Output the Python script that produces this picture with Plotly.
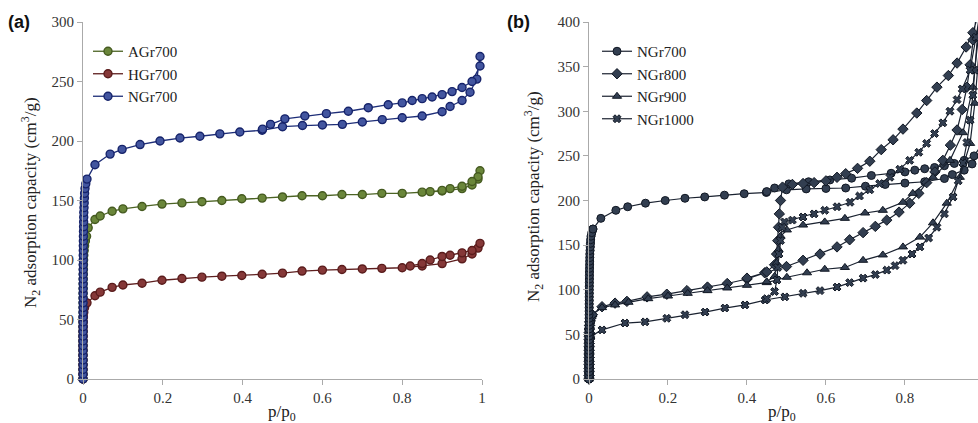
import plotly.graph_objects as go

# ---------------- data ----------------
# Panel (a) -- low-pressure (near-vertical) part, then adsorption, then desorption
ngr700_low_p = [0, 0, 0, 0, 0, 0, 0, 0, 0, 0, 0.0001, 0.0001, 0.0001, 0.0001, 0.0001,
                0.0002, 0.0002, 0.0002, 0.0002, 0.0003, 0.0003, 0.0003, 0.0004, 0.0004,
                0.0005, 0.0005, 0.0006, 0.0007, 0.0008, 0.0009, 0.001, 0.0012, 0.0014,
                0.0016, 0.0018, 0.002, 0.0025, 0.003, 0.0035, 0.004, 0.005, 0.007, 0.01]
ngr700_low_v = [0, 4, 8, 12, 16, 20, 24, 28, 32, 36, 40, 44, 48, 52, 56, 60, 64, 68, 72, 76,
                80, 84, 88, 92, 96, 100, 104, 108, 112, 116, 120, 124, 128, 132, 136, 140,
                144, 148, 152, 156, 160, 164, 168]
ngr700_ads_p = [0.03, 0.068, 0.098, 0.143, 0.193, 0.243, 0.293, 0.343, 0.393, 0.449, 0.5, 0.55,
                0.6, 0.65, 0.70, 0.75, 0.80, 0.85, 0.90, 0.92, 0.95, 0.97, 0.987, 0.995]
ngr700_ads_v = [180, 189, 193, 197, 200, 202.5, 204, 206, 207.6, 209, 212, 213,
                213.5, 214, 216, 218, 219.5, 221, 224.6, 229, 234, 241, 252, 271]
ngr700_des_p = [0.995, 0.975, 0.95, 0.925, 0.90, 0.875, 0.85, 0.825, 0.80, 0.765, 0.715, 0.665,
                0.61, 0.556, 0.506, 0.47, 0.45]
ngr700_des_v = [263, 250, 245, 241.5, 239, 237, 235.6, 234, 232, 230.5, 228, 225,
                223, 221, 218.6, 214, 210]

agr700_low_p = [0, 0, 0, 0, 0, 0, 0, 0, 0, 0, 0.0001, 0.0001, 0.0001, 0.0001, 0.0002, 0.0002,
                0.0002, 0.0003, 0.0003, 0.0004, 0.0005, 0.0006, 0.0008, 0.001, 0.0012, 0.0015,
                0.002, 0.003, 0.004, 0.006, 0.009]
agr700_low_v = [0, 4, 8, 12, 16, 20, 24, 28, 32, 36, 40, 44, 48, 52, 56, 60, 64, 68, 72, 76,
                80, 84, 88, 92, 96, 100, 104, 108, 112, 116, 120]
agr700_ads_p = [0.013, 0.03, 0.043, 0.073, 0.1, 0.148, 0.198, 0.248, 0.298, 0.348, 0.398, 0.449,
                0.5, 0.549, 0.6, 0.649, 0.70, 0.749, 0.8, 0.85, 0.9, 0.95, 0.975, 0.99, 0.995]
agr700_ads_v = [127, 134, 137, 141, 143, 145, 147, 148, 149, 150, 151.5, 152,
                153, 154, 154, 155, 155, 156, 156, 157, 158, 160, 163, 168, 175]
agr700_des_p = [0.99, 0.975, 0.95, 0.92, 0.9, 0.87]
agr700_des_v = [170, 166, 162, 160, 158.5, 157.5]

hgr700_low_p = [0, 0, 0, 0, 0, 0, 0, 0, 0.0001, 0.0001, 0.0002, 0.0003, 0.0005, 0.001, 0.002,
                0.004]
hgr700_low_v = [0, 4, 8, 12, 16, 20, 24, 28, 32, 36, 40, 44, 48, 52, 56, 60]
hgr700_ads_p = [0.01, 0.03, 0.043, 0.073, 0.1, 0.148, 0.198, 0.248, 0.298, 0.348, 0.398, 0.449,
                0.5, 0.549, 0.6, 0.649, 0.7, 0.749, 0.8, 0.85, 0.9, 0.95, 0.975, 0.99, 0.995]
hgr700_ads_v = [64, 70, 73, 77, 79, 80.5, 83, 84.5, 85.6, 86.4, 87, 88,
                89, 90.7, 91.5, 92, 92.5, 93, 93.5, 95, 97, 101, 105, 110, 114]
hgr700_des_p = [0.975, 0.95, 0.92, 0.9, 0.87, 0.85, 0.82]
hgr700_des_v = [108, 106, 104, 103, 100, 97, 95]

# Panel (b)
ngr800_low_p = [0, 0, 0, 0, 0, 0, 0, 0, 0.0001, 0.0001, 0.0002, 0.0002, 0.0003, 0.0005, 0.0008,
                0.0012, 0.002, 0.004, 0.008]
ngr800_low_v = [0, 4, 8, 12, 16, 20, 24, 28, 32, 36, 40, 44, 48, 52, 56, 60, 64, 68, 72]
ngr800_ads_p = [0.033, 0.066, 0.096, 0.147, 0.197, 0.248, 0.3, 0.35, 0.4, 0.445, 0.5, 0.542,
                0.585, 0.628, 0.66, 0.694, 0.725, 0.754, 0.785, 0.812, 0.835, 0.855, 0.876,
                0.896, 0.915, 0.932, 0.945, 0.957, 0.965, 0.972, 0.98, 0.99]
ngr800_ads_v = [81, 85, 87, 92, 95, 99, 103, 107, 112, 119, 126, 133,
                140, 148, 156, 164, 171, 178, 187, 197, 208, 220, 232,
                245, 262, 279, 302, 327, 352, 380, 410, 440]
ngr800_des_p = [0.99, 0.972, 0.955, 0.932, 0.91, 0.881, 0.855, 0.83, 0.795, 0.77, 0.74, 0.711,
                0.68, 0.65, 0.628, 0.6, 0.57, 0.542, 0.515, 0.49, 0.485, 0.482, 0.48, 0.478,
                0.475, 0.47, 0.45, 0.4]
ngr800_des_v = [415, 388, 372, 354, 340, 327, 312, 298, 280, 268, 257, 244,
                236, 230, 226, 222, 220, 219, 218, 215, 200, 185, 170, 155,
                140, 128, 120, 113]

ngr900_low_p = [0, 0, 0, 0, 0, 0, 0, 0, 0.0001, 0.0001, 0.0002, 0.0002, 0.0003, 0.0005, 0.0008,
                0.0012, 0.002, 0.004, 0.008]
ngr900_low_v = [0, 4, 8, 12, 16, 20, 24, 28, 32, 36, 40, 44, 48, 52, 56, 60, 64, 68, 72]
ngr900_ads_p = [0.033, 0.066, 0.1, 0.15, 0.2, 0.25, 0.3, 0.35, 0.4, 0.45, 0.501, 0.552, 0.597,
                0.648, 0.694, 0.744, 0.795, 0.838, 0.871, 0.906, 0.939, 0.965, 0.977, 0.99]
ngr900_ads_v = [80, 83, 86, 90, 93, 96, 99, 102, 105, 108, 114, 119, 123,
                125, 133, 139, 148, 159, 175, 197, 226, 264, 309, 380]
ngr900_des_p = [0.99, 0.972, 0.947, 0.914, 0.871, 0.82, 0.795, 0.744, 0.699, 0.648, 0.597,
                0.542, 0.501, 0.485, 0.48, 0.475, 0.47, 0.45]
ngr900_des_v = [400, 327, 276, 245, 226, 208, 198, 189, 186, 180, 176,
                172.5, 167, 160, 145, 130, 115, 109]

ngr1000_low_p = [0, 0, 0, 0, 0, 0, 0.0001, 0.0001, 0.0002, 0.0004, 0.0008, 0.002, 0.005]
ngr1000_low_v = [0, 4, 8, 12, 16, 20, 24, 28, 32, 36, 40, 44, 48]
ngr1000_ads_p = [0.033, 0.091, 0.142, 0.197, 0.243, 0.294, 0.344, 0.395, 0.446, 0.496, 0.542,
                 0.585, 0.628, 0.66, 0.694, 0.725, 0.754, 0.775, 0.795, 0.818, 0.838, 0.86,
                 0.881, 0.9, 0.922, 0.935, 0.947, 0.957, 0.965, 0.972, 0.977, 0.99]
ngr1000_ads_v = [55, 62.7, 64, 68, 72, 75, 79.5, 83, 88.5, 92, 96,
                 99, 103, 108, 113, 117, 122, 127, 133, 140, 148, 158,
                 170, 185, 204, 222, 242, 265, 290, 318, 346, 420]
ngr1000_des_p = [0.99, 0.98, 0.965, 0.945, 0.932, 0.914, 0.896, 0.875, 0.855, 0.835, 0.812,
                 0.787, 0.762, 0.736, 0.711, 0.685, 0.661, 0.628, 0.597, 0.57, 0.542, 0.515,
                 0.495, 0.489, 0.485, 0.481, 0.478, 0.476, 0.47, 0.45]
ngr1000_des_v = [410, 383, 346, 325, 313, 300, 287, 275, 264, 254, 245,
                 235, 226, 219, 212, 205, 198, 193, 189, 185, 181.5, 178,
                 176, 170, 155, 140, 125, 111, 98, 90]

x_ticks_a = [0, 0.2, 0.4, 0.6, 0.8, 1]
x_ticks_b = [0, 0.2, 0.4, 0.6, 0.8]
y_ticks_a = [0, 50, 100, 150, 200, 250, 300]
y_ticks_b = [0, 50, 100, 150, 200, 250, 300, 350, 400]

# ---------------- figure ----------------
W, H = 978, 423
ML, MT, MB = 0, 22, 44
PH = H - MT - MB

def px(x):
    return x / W

def py(y):
    return (H - MB - y) / PH

SERIF = "Liberation Serif, Times New Roman, serif"
fig = go.Figure()

left_series = [
    ("AGr700", agr700_low_p + agr700_ads_p + agr700_des_p, agr700_low_v + agr700_ads_v + agr700_des_v,
     "#4C6424", "#6A863A", "#455A20"),
    ("HGr700", hgr700_low_p + hgr700_ads_p + hgr700_des_p, hgr700_low_v + hgr700_ads_v + hgr700_des_v,
     "#5E1F1F", "#853838", "#5A1C1C"),
    ("NGr700", ngr700_low_p + ngr700_ads_p + ngr700_des_p, ngr700_low_v + ngr700_ads_v + ngr700_des_v,
     "#1E2E78", "#42559F", "#16236A"),
]
for name, xs, ys, lc, fc, oc in left_series:
    fig.add_trace(go.Scatter(
        x=xs, y=ys, name=name, mode="lines+markers", xaxis="x", yaxis="y",
        line=dict(color=lc, width=1.3),
        marker=dict(symbol="circle", size=8, color=fc, line=dict(color=oc, width=1.4)),
        cliponaxis=False, legend="legend"))

dark_line = "#1A2230"
dark_fill = "#323E50"
dark_edge = "#111824"
right_series = [
    ("NGr700", ngr700_low_p, ngr700_low_v, ngr700_ads_p + ngr700_des_p, ngr700_ads_v + ngr700_des_v, "circle", 8),
    ("NGr800", ngr800_low_p, ngr800_low_v, ngr800_ads_p + ngr800_des_p, ngr800_ads_v + ngr800_des_v, "diamond", 8),
    ("NGr900", ngr900_low_p, ngr900_low_v, ngr900_ads_p + ngr900_des_p, ngr900_ads_v + ngr900_des_v, "triangle-up", 8),
    ("NGr1000", ngr1000_low_p, ngr1000_low_v, ngr1000_ads_p + ngr1000_des_p, ngr1000_ads_v + ngr1000_des_v, "x", 7),
]
for name, lp, lv, xs, ys, sym, sz in right_series:
    fig.add_trace(go.Scatter(
        x=lp + xs, y=lv + ys, name=name, mode="lines+markers", xaxis="x2", yaxis="y2",
        line=dict(color=dark_line, width=1.2),
        marker=dict(symbol=sym, size=sz, color=dark_fill, line=dict(color=dark_edge, width=1)),
        cliponaxis=True, legend="legend2"))
# low-pressure markers drawn unclipped so the dense bar straddles the axis like in the original
for name, lp, lv, xs, ys, sym, sz in reversed(right_series):
    fig.add_trace(go.Scatter(
        x=lp, y=lv, name=name, mode="markers", xaxis="x2", yaxis="y2", showlegend=False,
        marker=dict(symbol=sym, size=sz, color=dark_fill, line=dict(color=dark_edge, width=1)),
        cliponaxis=False, legend="legend2", hoverinfo="skip"))

axis_common = dict(showline=True, linecolor="#AAAAAA", linewidth=1, ticks="outside",
                   ticklen=5, tickcolor="#AAAAAA", showgrid=False, zeroline=False,
                   tickfont=dict(family=SERIF, size=15, color="#333333"), automargin=False)

fig.update_layout(
    width=W, height=H,
    margin=dict(l=ML, r=0, t=MT, b=MB),
    paper_bgcolor="white", plot_bgcolor="white",
    xaxis=dict(domain=[px(83), px(482)], range=[0, 1], tickvals=x_ticks_a, anchor="y", **axis_common),
    yaxis=dict(domain=[0, 1], range=[0, 300], tickvals=y_ticks_a, anchor="x", **axis_common),
    xaxis2=dict(domain=[px(589), 1.0], range=[0, 0.985], tickvals=x_ticks_b, anchor="y2", **axis_common),
    yaxis2=dict(domain=[0, 1], range=[0, 400], tickvals=y_ticks_b, anchor="x2", **axis_common),
    legend=dict(x=px(88), y=py(35), xanchor="left", yanchor="top", bgcolor="rgba(0,0,0,0)",
                font=dict(family=SERIF, size=15, color="#222222"), itemwidth=30, tracegroupgap=0),
    legend2=dict(x=px(597), y=py(35), xanchor="left", yanchor="top", bgcolor="rgba(0,0,0,0)",
                 font=dict(family=SERIF, size=15, color="#222222"), itemwidth=30, tracegroupgap=0),
    showlegend=True,
)

ann_font = dict(family=SERIF, size=17, color="#222222")
fig.add_annotation(text="N<sub>2</sub> adsorption capacity (cm<sup>3</sup>/g)", xref="paper", yref="paper",
                   x=px(30), y=py(203), textangle=-90, showarrow=False, font=ann_font,
                   xanchor="center", yanchor="middle")
fig.add_annotation(text="N<sub>2</sub> adsorption capacity (cm<sup>3</sup>/g)", xref="paper", yref="paper",
                   x=px(533), y=py(197), textangle=-90, showarrow=False, font=ann_font,
                   xanchor="center", yanchor="middle")
fig.add_annotation(text="p/p<sub>0</sub>", xref="paper", yref="paper", x=px(282), y=py(413),
                   showarrow=False, font=ann_font, xanchor="center", yanchor="middle")
fig.add_annotation(text="p/p<sub>0</sub>", xref="paper", yref="paper", x=px(782), y=py(413),
                   showarrow=False, font=ann_font, xanchor="center", yanchor="middle")
label_font = dict(family="Liberation Sans, Arial, sans-serif", size=18, color="#111111")
fig.add_annotation(text="<b>(a)</b>", xref="paper", yref="paper", x=px(6), y=py(22),
                   showarrow=False, font=label_font, xanchor="left", yanchor="middle")
fig.add_annotation(text="<b>(b)</b>", xref="paper", yref="paper", x=px(505), y=py(22),
                   showarrow=False, font=label_font, xanchor="left", yanchor="middle")

fig.write_html("out.html")
